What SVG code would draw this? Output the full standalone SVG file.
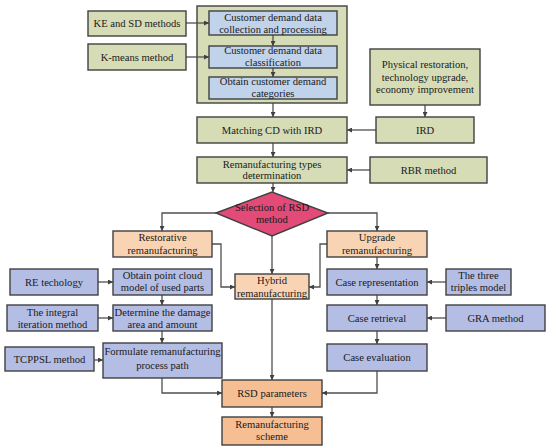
<svg xmlns="http://www.w3.org/2000/svg" width="550" height="448" viewBox="0 0 550 448" font-family="'Liberation Serif', 'Times New Roman', serif">
<defs>
<style>
text{font-family:'Liberation Serif','Times New Roman',serif;font-size:10.6px;fill:#1a1a1a;text-anchor:middle}
rect,polygon{stroke:#404040;stroke-width:1.4}
.g{fill:#d6dcb6}
.b{fill:#c0d3ea}
.p{fill:#b4bde4}
.o{fill:#f9d4b4}
.o2{fill:#f5bf93}
.d{fill:#e24a78}
.c{fill:none;stroke:#505050;stroke-width:1.3;marker-end:url(#ah)}
</style>
<marker id="ah" viewBox="0 0 10 10" refX="10" refY="5" markerWidth="5" markerHeight="5" markerUnits="userSpaceOnUse" orient="auto">
<path d="M0,0 L10,5 L0,10 z" fill="#404040"/>
</marker>
</defs>
<rect width="550" height="448" fill="#ffffff" style="stroke:none"/>

<g id="connectors">
<path class="c" d="M273,103 V117"/>
<path class="c" d="M425,105 V117"/>
<path class="c" d="M376,130 H347"/>
<path class="c" d="M273,143 V157"/>
<path class="c" d="M370,170 H347"/>
<path class="c" d="M273,183 V192"/>
<path class="c" d="M216,213 H162 V231"/>
<path class="c" d="M328,213 H377 V231"/>
<path class="c" d="M272,236 V274"/>
<path class="c" d="M212,244 H221 V287 H235"/>
<path class="c" d="M327,244 H320 V287 H309"/>
<path class="c" d="M98,282 H113"/>
<path class="c" d="M162,295 V305"/>
<path class="c" d="M98,318 H113"/>
<path class="c" d="M162,331 V343"/>
<path class="c" d="M94,360 H103"/>
<path class="c" d="M162,378 V393 H222"/>
<path class="c" d="M272,299 V380"/>
<path class="c" d="M377,257 V269"/>
<path class="c" d="M446,282 H427"/>
<path class="c" d="M377,295 V305"/>
<path class="c" d="M446,318 H427"/>
<path class="c" d="M377,331 V344"/>
<path class="c" d="M377,371 V393 H322"/>
<path class="c" d="M272,407 V417"/>
</g>

<g id="container"><rect class="g" x="197" y="6" width="150" height="97"/></g>
<g id="connectors-inner">
<path class="c" d="M186,23 H209"/>
<path class="c" d="M186,57 H209"/>
<path class="c" d="M273,35 V46"/>
<path class="c" d="M273,68 V77"/>
</g>

<g id="ke"><rect class="g" x="88" y="11" width="98" height="25"/><text x="137" y="27.2">KE and SD methods</text></g>
<g id="kmeans"><rect class="g" x="88" y="44" width="98" height="26"/><text x="137" y="60.7">K-means method</text></g>
<g id="cd1"><rect class="b" x="209" y="11" width="128" height="24"/><text x="273" y="20.6">Customer demand data</text><text x="273" y="32.6">collection and processing</text></g>
<g id="cd2"><rect class="b" x="209" y="46" width="128" height="22"/><text x="273" y="54.4">Customer demand data</text><text x="273" y="65.6">classification</text></g>
<g id="cd3"><rect class="b" x="209" y="77" width="128" height="22"/><text x="273" y="85.4">Obtain customer demand</text><text x="273" y="97">categories</text></g>
<g id="phys"><rect class="g" x="370" y="49" width="110" height="56"/><text x="425" y="67.7">Physical restoration,</text><text x="425" y="80.5">technology upgrade,</text><text x="425" y="93">economy improvement</text></g>
<g id="matching"><rect class="g" x="197" y="117" width="150" height="26"/><text x="272" y="133.7">Matching CD with IRD</text></g>
<g id="ird"><rect class="g" x="376" y="117" width="98" height="26"/><text x="425" y="133.7">IRD</text></g>
<g id="types"><rect class="g" x="197" y="157" width="150" height="26"/><text x="272" y="167.7">Remanufacturing types</text><text x="272" y="179.2">determination</text></g>
<g id="rbr"><rect class="g" x="370" y="157" width="117" height="26"/><text x="428.5" y="173.7">RBR method</text></g>
<g id="select"><polygon class="d" points="216,213 272,192 328,213 272,236"/><text x="272" y="210.7">Selection of RSD</text><text x="272" y="222.7">method</text></g>
<g id="restorative"><rect class="o" x="113" y="231" width="99" height="26"/><text x="162.5" y="241.4">Restorative</text><text x="162.5" y="253.5">remanufacturing</text></g>
<g id="upgrade"><rect class="o" x="327" y="231" width="100" height="26"/><text x="377" y="241.4">Upgrade</text><text x="377" y="253.5">remanufacturing</text></g>
<g id="re"><rect class="p" x="10" y="269" width="88" height="26"/><text x="54" y="285.7">RE techology</text></g>
<g id="cloud"><rect class="p" x="113" y="269" width="99" height="26"/><text x="162.5" y="279.4">Obtain point cloud</text><text x="162.5" y="291">model of used parts</text></g>
<g id="hybrid"><rect class="o" x="235" y="274" width="74" height="25"/><text x="272" y="284.4">Hybrid</text><text x="272" y="296.5">remanufacturing</text></g>
<g id="caserep"><rect class="p" x="327" y="269" width="100" height="26"/><text x="377" y="285.7">Case representation</text></g>
<g id="triples"><rect class="p" x="446" y="269" width="65" height="26"/><text x="478.5" y="279.4">The three</text><text x="478.5" y="291">triples model</text></g>
<g id="integral"><rect class="p" x="7" y="305" width="91" height="26"/><text x="52.5" y="316.4">The integral</text><text x="52.5" y="328">iteration method</text></g>
<g id="damage"><rect class="p" x="113" y="305" width="99" height="26"/><text x="162.5" y="316.4">Determine the damage</text><text x="162.5" y="328">area and amount</text></g>
<g id="retrieval"><rect class="p" x="327" y="305" width="100" height="26"/><text x="377" y="321.7">Case retrieval</text></g>
<g id="gra"><rect class="p" x="446" y="305" width="99" height="26"/><text x="495.5" y="321.7">GRA method</text></g>
<g id="tcppsl"><rect class="p" x="5" y="347" width="89" height="24"/><text x="49.5" y="362.7">TCPPSL method</text></g>
<g id="formulate"><rect class="p" x="103" y="343" width="119" height="35"/><text x="162.5" y="355.4">Formulate remanufacturing</text><text x="162.5" y="368.7">process path</text></g>
<g id="evaluation"><rect class="p" x="327" y="344" width="100" height="27"/><text x="377" y="361.2">Case evaluation</text></g>
<g id="rsd"><rect class="o2" x="222" y="380" width="100" height="27"/><text x="272" y="397.2">RSD parameters</text></g>
<g id="scheme"><rect class="o2" x="222" y="417" width="100" height="28"/><text x="272" y="428">Remanufacturing</text><text x="272" y="440.4">scheme</text></g>
</svg>
